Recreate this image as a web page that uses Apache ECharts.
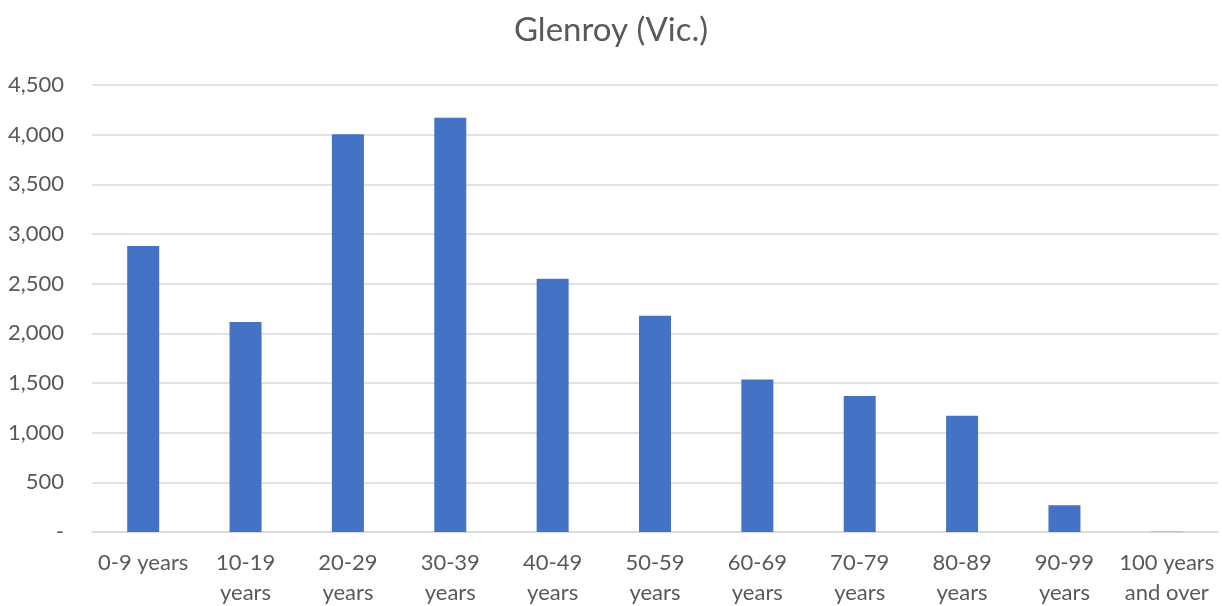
<!DOCTYPE html>
<html>
<head>
<meta charset="utf-8">
<style>
  html, body { margin: 0; padding: 0; background: #ffffff; }
  #chart { width: 1222px; height: 606px; }
</style>
<script src="https://cdn.jsdelivr.net/npm/echarts@6/dist/echarts.min.js"></script>
</head>
<body>
<div id="chart"></div>
<script>
// Age groups (tick labels, with their line breaks)
const ageGroups = [
  '0-9 years', '10-19\nyears', '20-29\nyears', '30-39\nyears', '40-49\nyears',
  '50-59\nyears', '60-69\nyears', '70-79\nyears', '80-89\nyears', '90-99\nyears',
  '100 years\nand over'
];
// Persons per age group
const persons = [2880, 2114, 4003, 4170, 2550, 2177, 1536, 1369, 1171, 270, 2];
// Value axis ticks
const yTicks = { min: 0, max: 4500, interval: 500 };

const textColor = '#595959';
const fontFamily = 'Lato, "Open Sans", "Noto Sans", sans-serif';

const chart = echarts.init(document.getElementById('chart'), null, { renderer: 'canvas' });
chart.setOption({
  animation: false,
  backgroundColor: '#ffffff',
  title: {
    text: 'Glenroy (Vic.)',
    left: 'center',
    top: 9,
    textStyle: { color: textColor, fontSize: 33, fontWeight: 'normal', fontFamily: fontFamily }
  },
  grid: { left: 92, right: 4, top: 85, bottom: 74, containLabel: false, outerBoundsMode: 'none' },
  xAxis: {
    type: 'category',
    data: ageGroups,
    axisLine: { show: true, lineStyle: { color: '#d9d9d9', width: 1.5 } },
    axisTick: { show: false },
    axisLabel: {
      color: textColor, fontSize: 22, fontFamily: fontFamily,
      margin: 16, lineHeight: 30, interval: 0
    }
  },
  yAxis: {
    type: 'value',
    min: yTicks.min, max: yTicks.max, interval: yTicks.interval,
    axisLine: { show: false },
    axisTick: { show: false },
    splitLine: { lineStyle: { color: '#d9d9d9', width: 1.5 } },
    axisLabel: {
      color: textColor, fontSize: 22, fontFamily: fontFamily, margin: 28,
      formatter: function (v) { return v === 0 ? '-' : v.toLocaleString('en-US'); }
    }
  },
  series: [{
    type: 'bar',
    data: persons,
    barWidth: 32,
    itemStyle: { color: '#4472C4' }
  }]
});
</script>
</body>
</html>
